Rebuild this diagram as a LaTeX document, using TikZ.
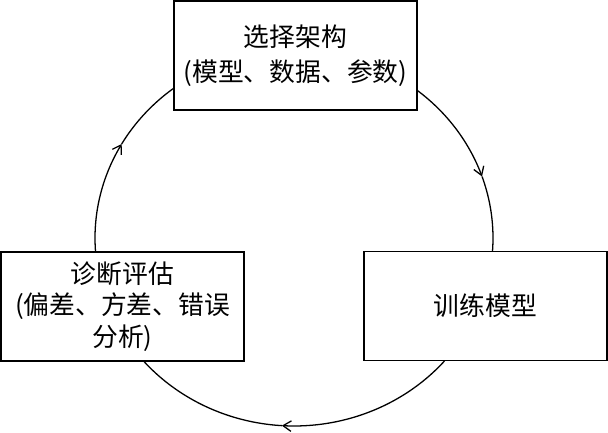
\documentclass[tikz,border=0pt]{standalone}
\usepackage{fontspec}
\newfontfamily\cjk{Noto Sans CJK SC}
\usetikzlibrary{arrows.meta}
\begin{document}
\begin{tikzpicture}[x=0.03cm,y=-0.03cm,
  stepbox/.style={draw, line width=1.5pt, fill=white, inner sep=0pt,
    minimum width=7.29cm, minimum height=3.27cm, align=center,
    font=\cjk\fontsize{22}{30}\selectfont},
  cyc/.style={line width=1.1pt},
  tipend/.style={-{Straight Barb[length=7pt,width=9pt]}}
]
\useasboundingbox (0,0) rectangle (608,433);
% cycle arcs (ellipse centre (294,238), radii 199 x 188)
\draw[cyc, tipend] plot[domain=184.3:150, samples=40] ({294+199*cos(\x)},{238-188*sin(\x)});
\draw[cyc] plot[domain=150:127.1, samples=30] ({294+199*cos(\x)},{238-188*sin(\x)});
\draw[cyc, tipend] plot[domain=51.8:19.1, samples=40] ({294+199*cos(\x)},{238-188*sin(\x)});
\draw[cyc] plot[domain=19.1:-3.96, samples=30] ({294+199*cos(\x)},{238-188*sin(\x)});
\draw[cyc, tipend] plot[domain=-40.9:-93.5, samples=60] ({294+199*cos(\x)},{238-188*sin(\x)});
\draw[cyc] plot[domain=-93.5:-139.1, samples=60] ({294+199*cos(\x)},{238-188*sin(\x)});
% boxes
\node[stepbox] (top) at (295.5,55.5) {选择架构\\(模型、数据、参数)};
\node[stepbox] (right) at (485.5,306) {训练模型};
\node[stepbox, font=\cjk\fontsize{22}{27}\selectfont] (left) at (122.5,306.5) {诊断评估\\(偏差、方差、错误\\分析)};
\end{tikzpicture}
\end{document}
